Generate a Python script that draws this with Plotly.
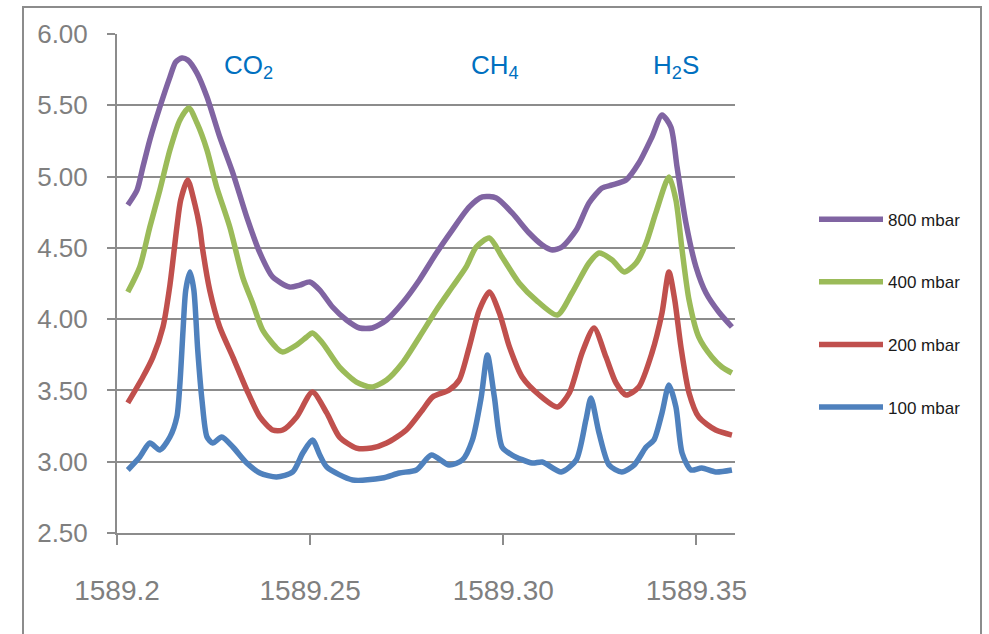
import plotly.graph_objects as go

# ---- data (wavelength in nm, signal) ----
x100 = [1589.2028, 1589.2059, 1589.2085, 1589.2111, 1589.2137, 1589.2155, 1589.2163, 1589.2171,
        1589.2178, 1589.2189, 1589.2199, 1589.2209, 1589.2220, 1589.2233, 1589.2248, 1589.2271,
        1589.2300, 1589.2336, 1589.2370, 1589.2413, 1589.2455, 1589.2481, 1589.2506, 1589.2525,
        1589.2543, 1589.2610, 1589.2687, 1589.2731, 1589.2775, 1589.2814, 1589.2860, 1589.2894,
        1589.2920, 1589.2943, 1589.2959, 1589.2977, 1589.2997, 1589.3023, 1589.3075,
        1589.3101, 1589.3150, 1589.3189, 1589.3214, 1589.3227, 1589.3248, 1589.3274, 1589.3307,
        1589.3339, 1589.3370, 1589.3390, 1589.3411, 1589.3429, 1589.3447, 1589.3463, 1589.3486,
        1589.3514, 1589.3550, 1589.3592]
y100 = [2.942, 3.033, 3.131, 3.082, 3.173, 3.314, 3.552, 3.924,
        4.204, 4.331, 4.204, 3.784, 3.433, 3.173, 3.131, 3.173,
        3.103, 2.991, 2.921, 2.893, 2.928, 3.061, 3.152, 3.047,
        2.963, 2.872, 2.886, 2.921, 2.942, 3.047, 2.977, 3.012,
        3.152, 3.454, 3.749, 3.454, 3.103, 3.047, 2.991,
        2.998, 2.928, 3.012, 3.293, 3.447, 3.201, 2.977, 2.928,
        2.977, 3.103, 3.152, 3.342, 3.538, 3.384, 3.061, 2.942,
        2.956, 2.928, 2.942]

x200 = [1589.2028, 1589.2067, 1589.2093, 1589.2119, 1589.2137, 1589.2155, 1589.2165, 1589.2183,
        1589.2202, 1589.2214, 1589.2222, 1589.2240, 1589.2266, 1589.2300, 1589.2336, 1589.2370,
        1589.2403, 1589.2429, 1589.2465, 1589.2506, 1589.2543, 1589.2576, 1589.2620, 1589.2659,
        1589.2698, 1589.2749, 1589.2791, 1589.2817, 1589.2860, 1589.2886, 1589.2912, 1589.2938,
        1589.2964, 1589.2990, 1589.3016, 1589.3049, 1589.3093, 1589.3140, 1589.3171, 1589.3204,
        1589.3235, 1589.3266, 1589.3292, 1589.3318, 1589.3351, 1589.3385, 1589.3411, 1589.3429,
        1589.3444, 1589.3460, 1589.3481, 1589.3506, 1589.3550, 1589.3592]
y200 = [3.412, 3.594, 3.734, 3.945, 4.239, 4.646, 4.836, 4.976,
        4.801, 4.646, 4.485, 4.204, 3.945, 3.734, 3.503, 3.314,
        3.222, 3.222, 3.314, 3.489, 3.342, 3.173, 3.096, 3.096,
        3.131, 3.222, 3.363, 3.454, 3.503, 3.573, 3.805, 4.064,
        4.190, 4.043, 3.805, 3.594, 3.468, 3.384, 3.482, 3.763,
        3.938, 3.734, 3.552, 3.468, 3.524, 3.763, 4.043, 4.331,
        4.134, 3.805, 3.482, 3.314, 3.222, 3.187]

x400 = [1589.2028, 1589.2059, 1589.2085, 1589.2111, 1589.2137, 1589.2163, 1589.2186, 1589.2207,
        1589.2233, 1589.2258, 1589.2292, 1589.2326, 1589.2351, 1589.2377, 1589.2413, 1589.2429,
        1589.2465, 1589.2491, 1589.2506, 1589.2532, 1589.2576, 1589.2620, 1589.2659, 1589.2698,
        1589.2739, 1589.2783, 1589.2827, 1589.2868, 1589.2904, 1589.2930, 1589.2964, 1589.2997,
        1589.3041, 1589.3085, 1589.3140, 1589.3178, 1589.3222, 1589.3248, 1589.3282, 1589.3313,
        1589.3344, 1589.3370, 1589.3395, 1589.3429, 1589.3447, 1589.3463, 1589.3481, 1589.3506,
        1589.3540, 1589.3566, 1589.3592]
y400 = [4.190, 4.366, 4.646, 4.906, 5.186, 5.397, 5.481, 5.376,
        5.186, 4.927, 4.646, 4.289, 4.113, 3.924, 3.798, 3.770,
        3.819, 3.875, 3.903, 3.833, 3.664, 3.559, 3.524, 3.573,
        3.692, 3.875, 4.064, 4.225, 4.366, 4.506, 4.569, 4.436,
        4.254, 4.134, 4.029, 4.183, 4.394, 4.464, 4.415, 4.331,
        4.394, 4.534, 4.745, 4.997, 4.836, 4.485, 4.134, 3.875,
        3.734, 3.664, 3.622]

x800 = [1589.2028, 1589.2052, 1589.2067, 1589.2085, 1589.2111, 1589.2137, 1589.2152, 1589.2168,
        1589.2183, 1589.2207, 1589.2233, 1589.2266, 1589.2300, 1589.2336, 1589.2370, 1589.2403,
        1589.2447, 1589.2473, 1589.2499, 1589.2525, 1589.2558, 1589.2594, 1589.2628, 1589.2661,
        1589.2698, 1589.2739, 1589.2783, 1589.2827, 1589.2868, 1589.2912, 1589.2946, 1589.2982,
        1589.3023, 1589.3067, 1589.3101, 1589.3127, 1589.3152, 1589.3189, 1589.3222, 1589.3256,
        1589.3282, 1589.3318, 1589.3351, 1589.3385, 1589.3411, 1589.3434, 1589.3450, 1589.3473,
        1589.3499, 1589.3525, 1589.3558, 1589.3592]
y800 = [4.801, 4.906, 5.067, 5.257, 5.488, 5.698, 5.804, 5.832,
        5.818, 5.726, 5.558, 5.278, 5.025, 4.716, 4.464, 4.296,
        4.225, 4.239, 4.261, 4.204, 4.085, 3.994, 3.938, 3.938,
        3.994, 4.113, 4.275, 4.464, 4.625, 4.787, 4.857, 4.850,
        4.745, 4.604, 4.520, 4.485, 4.506, 4.625, 4.815, 4.920,
        4.941, 4.976, 5.095, 5.278, 5.432, 5.348, 5.067, 4.674,
        4.366, 4.183, 4.050, 3.945]

series_names = ["800 mbar", "400 mbar", "200 mbar", "100 mbar"]
series_colors = ["#8064A2", "#9BBB59", "#C0504D", "#4F81BD"]

x_tickvals = [1589.20, 1589.25, 1589.30, 1589.35]
x_ticktext = ["1589.2", "1589.25", "1589.30", "1589.35"]
y_tickvals = [2.5, 3.0, 3.5, 4.0, 4.5, 5.0, 5.5, 6.0]

gas_labels = ["CO<sub>2</sub>", "CH<sub>4</sub>", "H<sub>2</sub>S"]
gas_x = [1589.2271, 1589.2912, 1589.3382]
gas_y = [5.77, 5.77, 5.77]

FONT = "Liberation Sans, Arial, sans-serif"
GRAY = "#8C8C8C"

W, H = 989, 634
L, T = 117, 34
PW, PH = 618, 499

fig = go.Figure()
xs = [x800, x400, x200, x100]
ys = [y800, y400, y200, y100]
for i, (name, col) in enumerate(zip(series_names, series_colors)):
    fig.add_trace(go.Scatter(
        x=xs[i], y=ys[i], mode="lines", name=name, legendgroup=name,
        line=dict(color=col, width=5.5, shape="spline", smoothing=0.7),
    ))

for lab, gx, gy in zip(gas_labels, gas_x, gas_y):
    fig.add_annotation(x=gx, y=gy, xref="x", yref="y", text=lab, showarrow=False,
                       xanchor="left", yanchor="middle",
                       font=dict(family=FONT, size=26, color="#0070C0"))

fig.update_layout(
    width=W, height=H,
    margin=dict(l=L, r=W - L - PW, t=T, b=H - T - PH),
    paper_bgcolor="white", plot_bgcolor="white",
    font=dict(family=FONT),
    showlegend=True,
    legend=dict(x=(814 - L) / PW, y=0.664, xanchor="left", yanchor="top",
                font=dict(family=FONT, size=17, color="#1a1a1a"),
                tracegroupgap=37.5, itemwidth=64, bgcolor="rgba(0,0,0,0)"),
    xaxis=dict(range=[1589.2, 1589.36], tickvals=x_tickvals, ticktext=x_ticktext,
               showgrid=False, zeroline=False, showline=True, linecolor=GRAY, linewidth=2,
               ticks="outside", ticklen=10, tickwidth=2, tickcolor=GRAY,
               ticklabelstandoff=21,
               tickfont=dict(family=FONT, size=28, color="#7F7F7F")),
    yaxis=dict(range=[2.5, 6.0], tickvals=y_tickvals, tickformat=".2f",
               showgrid=True, gridcolor=GRAY, gridwidth=2, zeroline=False,
               showline=True, linecolor=GRAY, linewidth=2,
               ticks="outside", ticklen=8, tickwidth=2, tickcolor=GRAY,
               ticklabelstandoff=14,
               tickfont=dict(family=FONT, size=26, color="#7F7F7F")),
)

# outer chart frame
fig.add_shape(type="rect", xref="paper", yref="paper",
              x0=(23 - L) / PW, x1=(981 - L) / PW,
              y0=-0.3, y1=(T - 7 + PH) / PH,
              line=dict(color=GRAY, width=2), fillcolor="rgba(0,0,0,0)", layer="below")

fig.write_html("out.html", config={"displayModeBar": False},
               post_script="document.body.style.margin='0';document.body.style.overflow='hidden';")
